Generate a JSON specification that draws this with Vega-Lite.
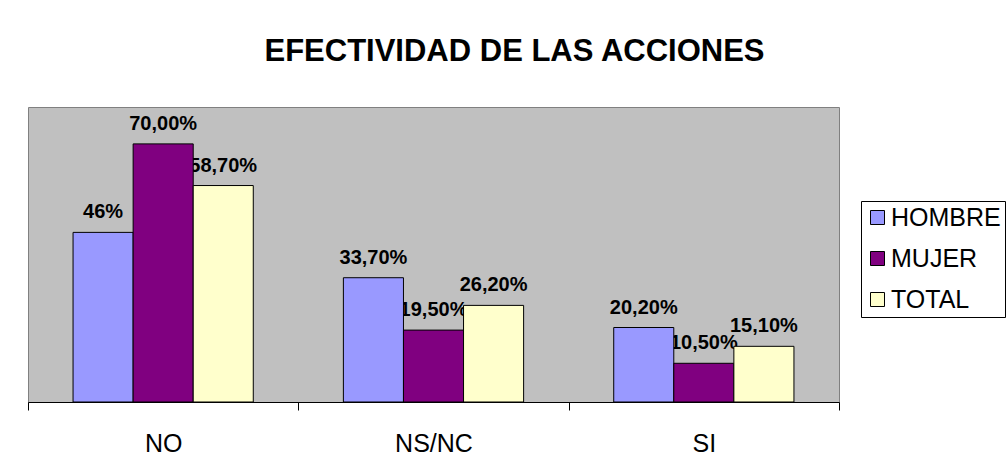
{
  "$schema": "https://vega.github.io/schema/vega-lite/v6.json",
  "width": 811,
  "height": 295,
  "autosize": {"type": "none"},
  "padding": {"left": 28, "top": 107, "right": 168, "bottom": 74},
  "background": "white",
  "title": {
    "text": "EFECTIVIDAD DE LAS ACCIONES",
    "font": "Liberation Sans",
    "fontSize": 31,
    "fontWeight": "bold",
    "color": "black",
    "anchor": "middle",
    "frame": "group",
    "baseline": "alphabetic",
    "dx": 81,
    "offset": 15
  },
  "data": {
    "values": [
      {"cat": "NO", "serie": "HOMBRE", "valor": 46, "etiqueta": "46%"},
      {"cat": "NO", "serie": "MUJER", "valor": 70, "etiqueta": "70,00%"},
      {"cat": "NO", "serie": "TOTAL", "valor": 58.7, "etiqueta": "58,70%"},
      {"cat": "NS/NC", "serie": "HOMBRE", "valor": 33.7, "etiqueta": "33,70%"},
      {"cat": "NS/NC", "serie": "MUJER", "valor": 19.5, "etiqueta": "19,50%"},
      {"cat": "NS/NC", "serie": "TOTAL", "valor": 26.2, "etiqueta": "26,20%"},
      {"cat": "SI", "serie": "HOMBRE", "valor": 20.2, "etiqueta": "20,20%"},
      {"cat": "SI", "serie": "MUJER", "valor": 10.5, "etiqueta": "10,50%"},
      {"cat": "SI", "serie": "TOTAL", "valor": 15.1, "etiqueta": "15,10%"}
    ]
  },
  "encoding": {
    "x": {
      "field": "cat",
      "type": "nominal",
      "sort": ["NO", "NS/NC", "SI"],
      "scale": {"paddingInner": 0, "paddingOuter": 0},
      "axis": {
        "title": null,
        "labelAngle": 0,
        "labelFont": "Liberation Sans",
        "labelFontSize": 25,
        "labelColor": "black",
        "labelPadding": 21,
        "domainColor": "black",
        "domainWidth": 1,
        "tickColor": "black",
        "tickSize": 8,
        "tickWidth": 1,
        "tickBand": "extent",
        "grid": false
      }
    },
    "xOffset": {
      "field": "serie",
      "type": "nominal",
      "sort": ["HOMBRE", "MUJER", "TOTAL"],
      "scale": {"paddingInner": 0, "paddingOuter": 0.75}
    },
    "y": {
      "field": "valor",
      "type": "quantitative",
      "scale": {"domain": [0, 80], "nice": false},
      "axis": null
    }
  },
  "layer": [
    {
      "mark": {
        "type": "text",
        "font": "Liberation Sans",
        "fontSize": 20,
        "fontWeight": "bold",
        "color": "black",
        "align": "center",
        "baseline": "alphabetic",
        "dy": -14
      },
      "encoding": {
        "text": {"field": "etiqueta", "type": "nominal"}
      }
    },
    {
      "mark": {"type": "bar", "stroke": "black", "strokeWidth": 1},
      "encoding": {
        "color": {
          "field": "serie",
          "type": "nominal",
          "sort": ["HOMBRE", "MUJER", "TOTAL"],
          "scale": {
            "domain": ["HOMBRE", "MUJER", "TOTAL"],
            "range": ["#9999FF", "#800080", "#FFFFCC"]
          },
          "legend": {
            "title": null,
            "orient": "none",
            "legendX": 833,
            "legendY": 94,
            "symbolType": "square",
            "symbolSize": 196,
            "symbolStrokeColor": "black",
            "symbolStrokeWidth": 1,
            "symbolOpacity": 1,
            "labelFont": "Liberation Sans",
            "labelFontSize": 25,
            "labelColor": "black",
            "labelOffset": 1,
            "rowPadding": 15,
            "padding": 4,
            "strokeColor": "black",
            "fillColor": "white"
          }
        }
      }
    }
  ],
  "config": {
    "view": {"fill": "#C0C0C0", "stroke": "#808080", "strokeWidth": 1}
  }
}
